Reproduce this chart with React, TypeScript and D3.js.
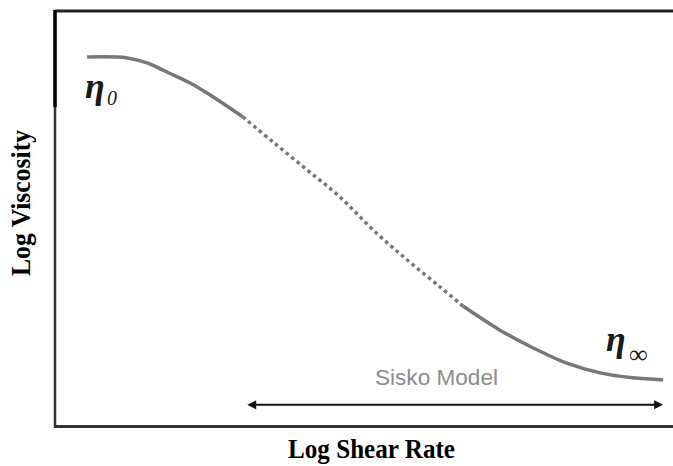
import React from "react";
import * as d3 from "d3";

// Log shear rate (x) and log viscosity (y), arbitrary units 0..10
const logShearRate = [0.52, 1.17, 1.49, 1.81, 2.18, 2.56, 3.04, 3.53, 4.08, 4.61, 5.15, 5.70, 6.23, 6.60, 7.20, 7.74, 8.27, 8.82, 9.35, 9.84];
const logViscosity = [8.89, 8.87, 8.75, 8.53, 8.27, 7.93, 7.45, 6.84, 6.17, 5.52, 4.72, 4.00, 3.35, 2.89, 2.31, 1.88, 1.52, 1.28, 1.16, 1.11];
// index ranges: solid, dotted, solid
const segmentStarts = [0, 6, 13];
const segmentEnds = [6, 13, 19];
const segmentStyles = ["solid", "dotted", "solid"];
// Sisko model range arrow
const arrowRange = [3.11, 9.84];
const arrowLevel = 0.51;

const W = 673;
const H = 466;

export default function App() {
  const x = d3.scaleLinear().domain([0, 10]).range([55, 673]);
  const y = d3.scaleLinear().domain([0, 10]).range([426, 11]);
  const pts: [number, number][] = logShearRate.map((v, i) => [v, logViscosity[i]]);
  const line = d3
    .line<[number, number]>()
    .x((d) => x(d[0]))
    .y((d) => y(d[1]))
    .curve(d3.curveCatmullRom.alpha(0.5));

  const ax0 = x(arrowRange[0]);
  const ax1 = x(arrowRange[1]);
  const ay = y(arrowLevel);
  const curveColor = "#777777";
  const serif = "'Liberation Serif', 'Times New Roman', serif";

  return (
    <svg
      width={W}
      height={H}
      style={{ position: "absolute", left: 0, top: 0, background: "#fff" }}
    >
      <rect x={0} y={0} width={W} height={H} fill="#fff" />
      {/* frame */}
      <line x1={55} y1={11} x2={673} y2={11} stroke="#222" strokeWidth={3} />
      <line x1={55} y1={426.5} x2={673} y2={426.5} stroke="#333" strokeWidth={3} />
      <line x1={55} y1={10} x2={55} y2={428} stroke="#333" strokeWidth={2.5} />
      <line x1={55} y1={10} x2={55} y2={107} stroke="#000" strokeWidth={3.5} />

      {/* curve segments */}
      {segmentStarts.map((s, k) => (
        <path
          key={k}
          d={line(pts.slice(s, segmentEnds[k] + 1)) || ""}
          fill="none"
          stroke={curveColor}
          strokeWidth={3.5}
          strokeDasharray={segmentStyles[k] === "dotted" ? "3.5 3.5" : undefined}
        />
      ))}

      {/* arrow */}
      <line x1={ax0 + 6} y1={ay} x2={ax1 - 6} y2={ay} stroke="#111" strokeWidth={2} />
      <path d={`M${ax0},${ay} L${ax0 + 9},${ay - 4.5} L${ax0 + 9},${ay + 4.5} Z`} fill="#111" />
      <path d={`M${ax1},${ay} L${ax1 - 9},${ay - 4.5} L${ax1 - 9},${ay + 4.5} Z`} fill="#111" />

      <text
        x={436.5}
        y={385}
        textAnchor="middle"
        fontFamily="'Liberation Sans', Arial, sans-serif"
        fontSize={22}
        fill="#8c8c8c"
        textLength={123}
        lengthAdjust="spacingAndGlyphs"
      >
        Sisko Model
      </text>

      {/* eta labels */}
      <text x={85} y={98} fontFamily={serif} fontStyle="italic" fontWeight="bold" fontSize={36} fill="#1a1a1a">
        η
      </text>
      <text x={107} y={105} fontFamily={serif} fontStyle="italic" fontSize={20} fill="#1a1a1a">
        0
      </text>
      <text x={606} y={351} fontFamily={serif} fontStyle="italic" fontWeight="bold" fontSize={36} fill="#1a1a1a">
        η
      </text>
      <text x={629} y={363} fontFamily={serif} fontSize={26} fill="#1a1a1a">
        ∞
      </text>

      {/* axis titles */}
      <g transform="translate(371.5,458) scale(1,1.1)">
        <text
          x={0}
          y={0}
          textAnchor="middle"
          fontFamily={serif}
          fontWeight="bold"
          fontSize={25}
          fill="#000"
          textLength={167}
          lengthAdjust="spacingAndGlyphs"
        >
          Log Shear Rate
        </text>
      </g>
      <g transform="translate(30,203) rotate(-90) scale(1,1.1)">
        <text
          x={0}
          y={0}
          textAnchor="middle"
          fontFamily={serif}
          fontWeight="bold"
          fontSize={25}
          fill="#000"
          textLength={146}
          lengthAdjust="spacingAndGlyphs"
        >
          Log Viscosity
        </text>
      </g>
    </svg>
  );
}
